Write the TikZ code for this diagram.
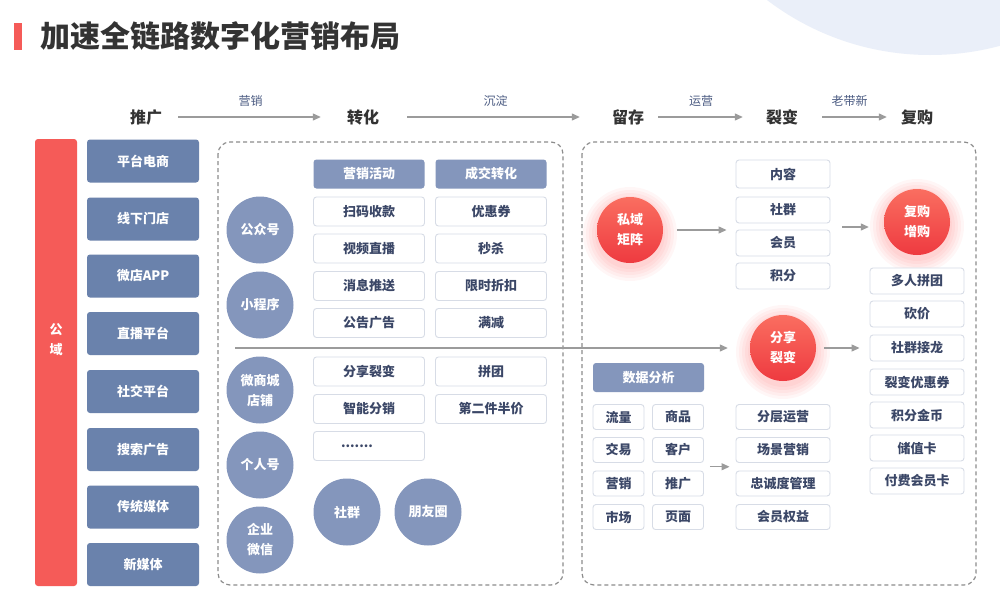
\documentclass[tikz,border=0pt]{standalone}
\usepackage{fontspec}
\setmainfont{Noto Sans CJK SC}
\usetikzlibrary{arrows.meta,positioning,calc}

\definecolor{pubred}{HTML}{F55B58}
\definecolor{navy}{HTML}{6A82AC}
\definecolor{lavy}{HTML}{8496BC}
\definecolor{inkblue}{HTML}{3B4767}
\definecolor{edgegray}{HTML}{D7DCE6}
\definecolor{linegray}{HTML}{9B9B9B}
\definecolor{dashgray}{HTML}{8C8C8C}
\definecolor{skyblue}{HTML}{EAEFF9}
\definecolor{labelblue}{HTML}{4B5B82}
\definecolor{titlegray}{HTML}{333333}
\definecolor{redtop}{HTML}{FA6E60}
\definecolor{redbot}{HTML}{EE3A40}

\tikzset{
  stage/.style={font=\fontsize{16}{16}\selectfont\bfseries, text=titlegray, inner sep=0pt},
  flowlabel/.style={font=\fontsize{12}{12}\selectfont, text=labelblue, inner sep=0pt},
  arr/.style={draw=linegray, line width=1.2pt, -{Triangle[length=8pt,width=7pt]}},
  zone/.style={draw=dashgray, line width=1.2pt, dash pattern=on 4pt off 3pt, rounded corners=12pt},
  channel/.style={fill=navy, rounded corners=3pt, minimum width=112pt, minimum height=43pt,
    text=white, font=\fontsize{13}{13}\selectfont\bfseries},
  headbox/.style={fill=lavy, rounded corners=3pt, minimum width=111pt, minimum height=29pt,
    text=white, font=\fontsize{13}{13}\selectfont\bfseries},
  itembox/.style={draw=edgegray, line width=0.9pt, fill=white, rounded corners=3pt,
    minimum width=111pt, minimum height=29pt, text=inkblue, font=\fontsize{13}{13}\selectfont\bfseries},
  sidebox/.style={itembox, minimum width=94pt, minimum height=26pt},
  tinybox/.style={itembox, minimum width=51pt, minimum height=25pt},
  bluedot/.style={circle, fill=lavy, minimum size=67pt, inner sep=0pt, align=center,
    text=white, font=\fontsize{13}{20}\selectfont\bfseries},
  reddot/.style={circle, top color=redtop, bottom color=redbot, minimum size=66pt, inner sep=0pt,
    align=center, text=white, font=\fontsize{13}{20}\selectfont\bfseries},
  glow/.style={fill=red, fill opacity=0.035}
}

\begin{document}
\begin{tikzpicture}[x=1pt,y=-1pt]
\useasboundingbox (0,0) rectangle (1000,608);
\fill[white] (0,0) rectangle (1000,608);
\fill[skyblue] (930,-214) circle (269pt);

% title
\fill[pubred] (14,23) rectangle (22,50);
\node[anchor=west, inner sep=0pt, text=titlegray, font=\fontsize{30}{30}\selectfont\bfseries] (title) at (40,36) {加速全链路数字化营销布局};

% stages
\node[stage] (tg) at (146,117) {推广};
\node[stage] (zh) at (363,117) {转化};
\node[stage] (lc) at (628,117) {留存};
\node[stage] (lb) at (782,117) {裂变};
\node[stage] (fg) at (917,117) {复购};

\draw[arr, shorten <=16pt, shorten >=26pt] (tg) -- (zh) node[flowlabel, midway, xshift=-4pt, yshift=16pt] {营销};
\draw[arr, shorten <=28pt, shorten >=32pt] (zh) -- (lc) node[flowlabel, midway, yshift=16pt] {沉淀};
\draw[arr, shorten <=14pt, shorten >=23pt] (lc) -- (lb) node[flowlabel, midway, xshift=-4pt, yshift=16pt] {运营};
\draw[arr, shorten <=24pt, shorten >=14pt] (lb) -- (fg) node[flowlabel, midway, yshift=16pt] {老带新};

% public domain
\node[fill=pubred, rounded corners=3pt, minimum width=42pt, minimum height=447pt] (gy) at (56,362.5) {};
\node[text=white, align=center, font=\fontsize{13}{20}\selectfont\bfseries] (gyt) at (56,340) {公\\域};

\node[channel] (ptds) at (143,161) {平台电商};
\node[channel] (xxmd) at (143,219) {线下门店};
\node[channel] (wdapp) at (143,276) {微店APP};
\node[channel] (zbpt) at (143,333.5) {直播平台};
\node[channel] (sjpt) at (143,391.5) {社交平台};
\node[channel] (ssgg) at (143,449.5) {搜索广告};
\node[channel] (ctmt) at (143,507) {传统媒体};
\node[channel] (xmt) at (143,564.5) {新媒体};

% glows
\foreach \r in {35,38,41,44,47} {
  \fill[glow] (630,234) circle (\r pt);
  \fill[glow] (917,226) circle (\r pt);
  \fill[glow] (783,352) circle (\r pt);
}

% zones
\draw[zone] (218,142) rectangle (563,585);
\draw[zone] (582,142) rectangle (976,585);

% conversion
\node[bluedot] (gzh) at (260,230) {公众号};
\node[bluedot] (xcx) at (260,305) {小程序};
\node[bluedot] (wsc) at (260,390) {微商城\\店铺};
\node[bluedot] (grh) at (260,465) {个人号};
\node[bluedot] (qywx) at (260,540) {企业\\微信};
\node[bluedot] (sq) at (347,512) {社群};
\node[bluedot] (pyq) at (428,512) {朋友圈};

\node[headbox] (yxhd) at (369,174) {营销活动};
\node[headbox] (cjzh) at (491,174) {成交转化};

\node[itembox] (smsk) at (369,211.5) {扫码收款};
\node[itembox] (spzb) at (369,248.5) {视频直播};
\node[itembox] (xxts) at (369,286) {消息推送};
\node[itembox] (gggg) at (369,323) {公告广告};
\node[itembox] (fxlb) at (369,371.5) {分享裂变};
\node[itembox] (znfx) at (369,409) {智能分销};
\node[itembox] (more) at (369,446) {\hspace*{-24pt}.......};

\node[itembox] (yhq) at (491,211.5) {优惠券};
\node[itembox] (ms) at (491,248.5) {秒杀};
\node[itembox] (xszk) at (491,286) {限时折扣};
\node[itembox] (mj) at (491,323) {满减};
\node[itembox] (pt) at (491,371.5) {拼团};
\node[itembox] (dejbj) at (491,409) {第二件半价};

% retention and fission
\node[reddot] (sy) at (630,230) {私域\\矩阵};
\node[reddot] (fgzg) at (917,222) {复购\\增购};
\node[reddot] (fx) at (783,348) {分享\\裂变};

\coordinate (split) at (235,348);
\draw[arr, shorten >=22pt] (split) -- (fx);

\node[sidebox, minimum height=28pt] (nr) at (783,174) {内容};
\node[sidebox] (sqb) at (783,210) {社群};
\node[sidebox] (hy) at (783,243) {会员};
\node[sidebox] (jf) at (783,276) {积分};

\node[sidebox] (drpt) at (917,281) {多人拼团};
\node[sidebox] (kj) at (917,314) {砍价};
\node[sidebox] (sqjl) at (917,348) {社群接龙};
\node[sidebox] (lbyhq) at (917,382) {裂变优惠券};
\node[sidebox] (jfjb) at (917,415) {积分金币};
\node[sidebox] (czk) at (917,448) {储值卡};
\node[sidebox] (ffhyk) at (917,481) {付费会员卡};

\node[headbox] (sjfx) at (648.5,377.5) {数据分析};
\node[tinybox] (ll) at (618.5,417) {流量};
\node[tinybox] (jy) at (618.5,450) {交易};
\node[tinybox] (yx) at (618.5,483.5) {营销};
\node[tinybox] (sc) at (618.5,517) {市场};
\node[tinybox] (sp) at (678,417) {商品};
\node[tinybox] (kh) at (678,450) {客户};
\node[tinybox] (tgb) at (678,483.5) {推广};
\node[tinybox] (ym) at (678,517) {页面};

\node[sidebox, minimum height=25pt] (fcyy) at (783,417) {分层运营};
\node[sidebox, minimum height=25pt] (cjyx) at (783,450) {场景营销};
\node[sidebox, minimum height=25pt] (zcdgl) at (783,483.5) {忠诚度管理};
\node[sidebox, minimum height=25pt] (hyqy) at (783,517) {会员权益};

\draw[arr, shorten <=14pt, shorten >=9pt] (sy) -- (sy -| hy.west);
\coordinate (fgin) at (842,227);
\draw[arr, shorten >=15pt] (fgin) -- (fgin -| fgzg.west);
\draw[arr, shorten <=8pt, shorten >=10pt] (fx) -- (sqjl);
\draw[arr, shorten <=6pt, shorten >=6pt] ($(kh.east)!0.5!(tgb.east)$) -- ($(cjyx.west)!0.5!(zcdgl.west)$);
\end{tikzpicture}
\end{document}
